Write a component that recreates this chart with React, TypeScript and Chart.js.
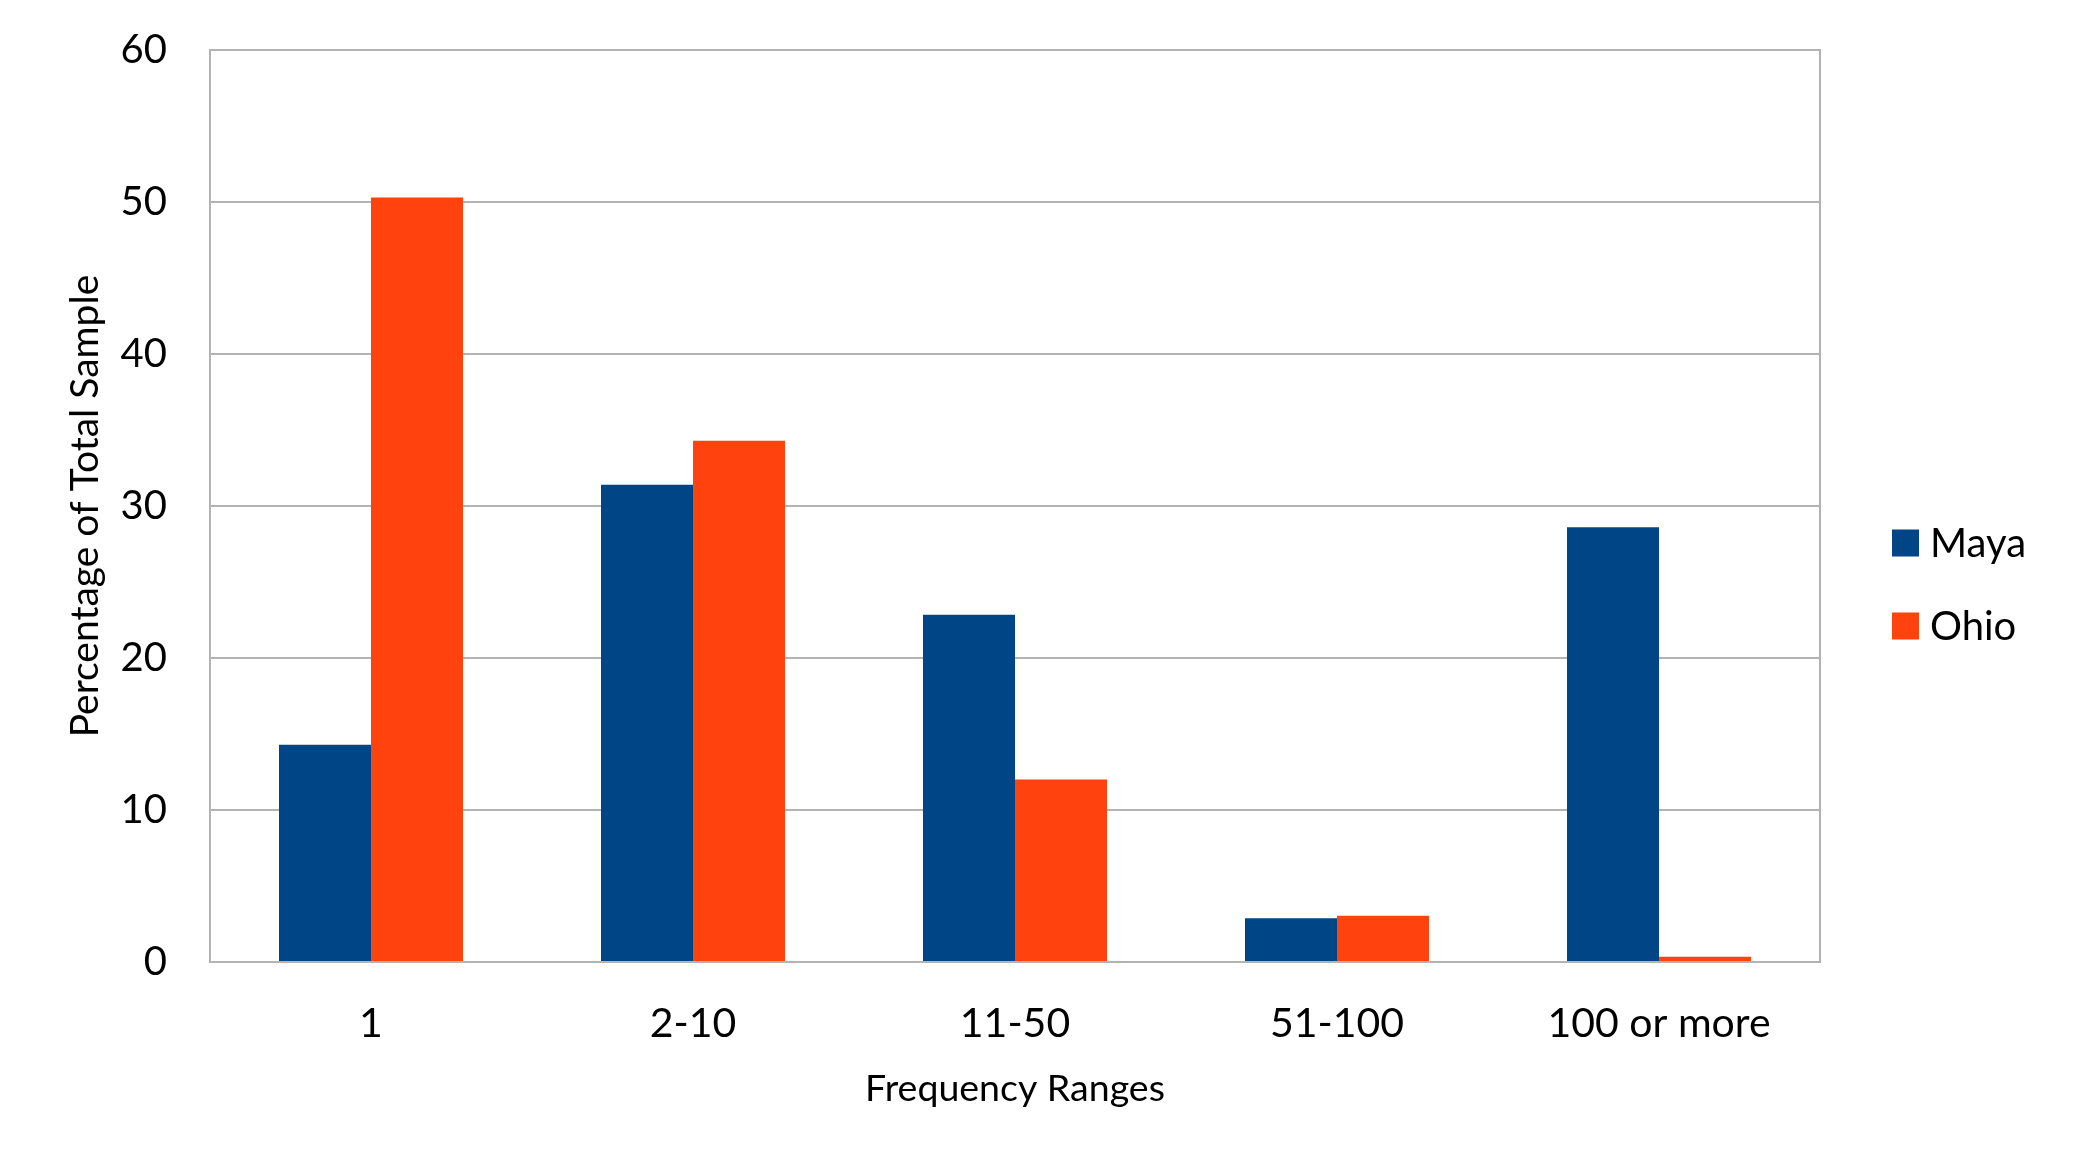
import React, { useEffect, useRef } from "react";
import { Chart, registerables } from "chart.js";

Chart.register(...registerables);

const categories = ["1", "2-10", "11-50", "51-100", "100 or more"];
const mayaValues = [14.3, 31.4, 22.85, 2.88, 28.6];
const ohioValues = [50.3, 34.3, 12.0, 3.05, 0.35];
const seriesNames = ["Maya", "Ohio"];
const seriesColors = ["#004586", "#ff420e"];
const yTitle = "Percentage of Total Sample";
const xTitle = "Frequency Ranges";

const FONT = "Lato, 'DejaVu Sans', sans-serif";
const GRID = "#b3b3b3";

const frameAndLegend = {
  id: "frameAndLegend",
  beforeDatasetsDraw(chart: any) {
    const { ctx, chartArea } = chart;
    ctx.save();
    ctx.strokeStyle = GRID;
    ctx.lineWidth = 2;
    ctx.beginPath();
    ctx.moveTo(chartArea.left, chartArea.top);
    ctx.lineTo(chartArea.right, chartArea.top);
    ctx.lineTo(chartArea.right, chartArea.bottom);
    ctx.stroke();
    ctx.restore();
  },
  afterDraw(chart: any) {
    const { ctx, chartArea } = chart;
    ctx.save();
    const boxX = chartArea.right + 72;
    const firstY = chartArea.top + 493;
    const step = 83;
    const box = 27;
    ctx.font = `40px ${FONT}`;
    ctx.textAlign = "left";
    ctx.textBaseline = "middle";
    chart.data.datasets.forEach((ds: any, i: number) => {
      const cy = firstY + i * step;
      ctx.fillStyle = ds.backgroundColor;
      ctx.fillRect(boxX, cy - box / 2, box, box);
      ctx.fillStyle = "#000";
      ctx.fillText(ds.label, boxX + 38, cy + 1);
    });
    ctx.restore();
  },
};

export default function App() {
  const ref = useRef<HTMLCanvasElement>(null);
  useEffect(() => {
    if (!ref.current) return;
    const chart = new Chart(ref.current, {
      type: "bar",
      data: {
        labels: categories,
        datasets: [
          {
            label: seriesNames[0],
            data: mayaValues,
            backgroundColor: seriesColors[0],
            borderWidth: 0,
          },
          {
            label: seriesNames[1],
            data: ohioValues,
            backgroundColor: seriesColors[1],
            borderWidth: 0,
          },
        ],
      },
      options: {
        animation: false,
        responsive: false,
        devicePixelRatio: 1,
        layout: { padding: { top: 50, right: 259, bottom: 0, left: 0 } },
        datasets: {
          bar: { categoryPercentage: 4 / 7, barPercentage: 1 },
        },
        plugins: {
          legend: { display: false },
          tooltip: { enabled: false },
        },
        scales: {
          x: {
            grid: { display: false, drawTicks: false },
            border: { display: true, color: GRID, width: 2 },
            ticks: {
              color: "#000",
              font: { family: FONT, size: 41 },
              padding: 37,
              maxRotation: 0,
            },
            title: {
              display: true,
              text: xTitle,
              color: "#000",
              font: { family: FONT, size: 37.5 },
              padding: { top: 0, bottom: 58 },
            },
            afterFit: (scale: any) => {
              scale.height = 207;
              scale.paddingLeft = 0;
              scale.paddingRight = 0;
            },
          },
          y: {
            min: 0,
            max: 60,
            grid: { color: GRID, lineWidth: 2, drawTicks: false },
            border: { display: true, color: GRID, width: 2 },
            ticks: {
              stepSize: 10,
              color: "#000",
              font: { family: FONT, size: 40 },
              padding: 43,
            },
            title: {
              display: true,
              text: yTitle,
              color: "#000",
              font: { family: FONT, size: 39 },
              padding: { top: 62, bottom: 0 },
            },
            afterFit: (scale: any) => {
              scale.width = 210;
              scale.paddingTop = 0;
              scale.paddingBottom = 0;
            },
          },
        },
      },
      plugins: [frameAndLegend],
    });
    return () => chart.destroy();
  }, []);
  return (
    <div style={{ position: "absolute", left: 0, top: 0, width: 2079, height: 1169, background: "#fff" }}>
      <canvas ref={ref} width={2079} height={1169} />
    </div>
  );
}
